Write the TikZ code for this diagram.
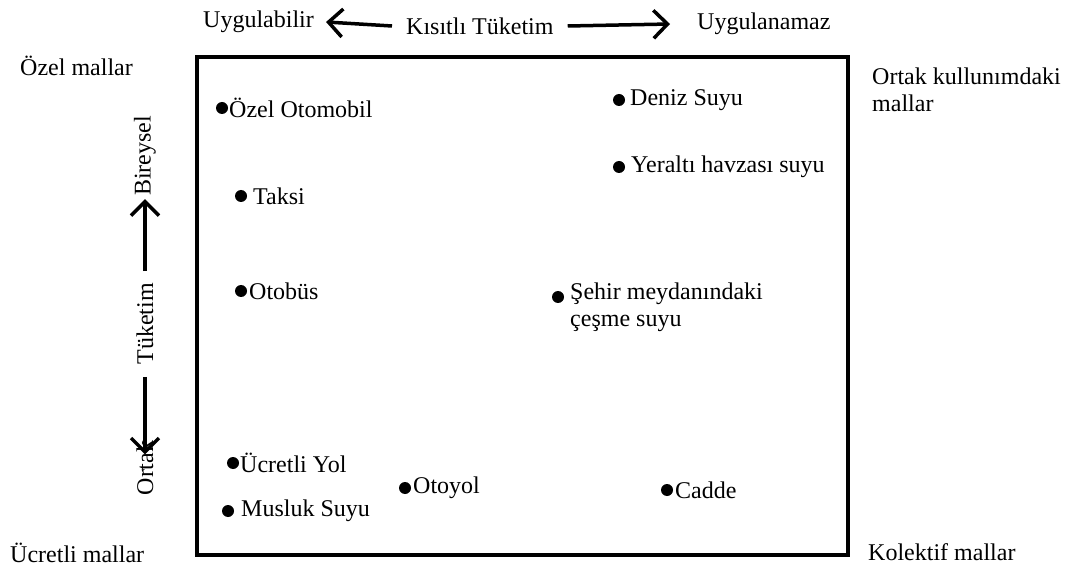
\documentclass[tikz,border=0pt]{standalone}
\usepackage{fontspec}
\setmainfont{Liberation Serif}
\usetikzlibrary{arrows.meta}
\begin{document}
\begin{tikzpicture}[x=1pt,y=-1pt,
  lbl/.style={inner sep=0pt,anchor=west,font=\fontsize{24}{27}\selectfont},
  pt/.style={circle,fill=black,inner sep=0pt,minimum size=12pt},
  bigarrow/.style={line width=3.5pt,-{Straight Barb[length=14pt,width=28pt,line width=3.5pt]}}]
\useasboundingbox (0,0) rectangle (1068,569);
% frame
\draw[line width=4pt] (197,57) rectangle (848,555);
% top axis
\node[lbl] (uyg) at (203,22) {Uygulabilir};
\node[lbl] (kt) at (406,26) {Kısıtlı Tüketim};
\node[lbl] (uygn) at (697,24) {Uygulanamaz};
\draw[bigarrow] ([xshift=-14pt]kt.west) -- ([xshift=12pt]uyg.east);
\draw[bigarrow] ([xshift=14pt]kt.east) -- ([xshift=-27pt]uygn.west);
% corners
\node[lbl] (ozm) at (20,66) {Özel mallar};
\node[lbl,align=left] (ort) at (872,90) {Ortak kullunımdaki\\mallar};
\node[lbl] (ucm) at (10,553) {Ücretli mallar};
\node[lbl] (kol) at (868,552) {Kolektif mallar};
% left axis
\node[lbl,anchor=center,rotate=90] (bir) at (145,156) {Bireysel};
\node[lbl,anchor=center,rotate=90] (tuk) at (145,324) {Tüketim};
\node[lbl,anchor=center,rotate=90] (ortk) at (145,468) {Ortak};
\draw[bigarrow] ([yshift=12pt]tuk.east) -- ([yshift=-3pt]bir.west);
\draw[bigarrow] ([yshift=-12pt]tuk.west) -- ([yshift=-14pt]ortk.east);
% points
\node[pt] (p1) at (222,108) {};
\node[lbl] (t1) at (229,108) {Özel Otomobil};
\node[pt] (p2) at (241,196) {};
\node[lbl] (t2) at (253,196) {Taksi};
\node[pt] (p3) at (241,291) {};
\node[lbl] (t3) at (249,291) {Otobüs};
\node[pt] (p4) at (619,100) {};
\node[lbl] (t4) at (630,100) {Deniz Suyu};
\node[pt] (p5) at (619,167) {};
\node[lbl] (t5) at (631,167) {Yeraltı havzası suyu};
\node[pt] (p6) at (558,297) {};
\node[lbl,align=left,anchor=north west] (t6) at (570,283) {Şehir meydanındaki\\çeşme suyu};
\node[pt] (p7) at (233,463) {};
\node[lbl] (t7) at (240,463) {Ücretli Yol};
\node[pt] (p8) at (228,511) {};
\node[lbl] (t8) at (241,511) {Musluk Suyu};
\node[pt] (p9) at (405,488) {};
\node[lbl] (t9) at (413,488) {Otoyol};
\node[pt] (p10) at (667,490) {};
\node[lbl] (t10) at (675,490) {Cadde};
\end{tikzpicture}
\end{document}
